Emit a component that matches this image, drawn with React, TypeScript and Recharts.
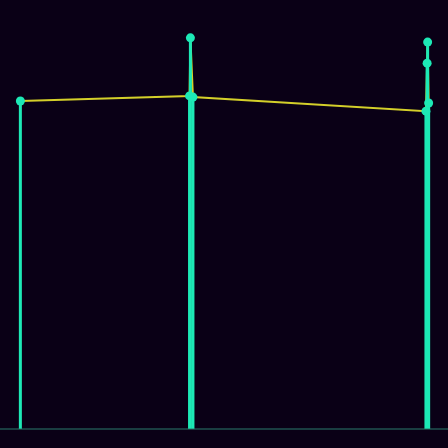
import { Area, Bar, ComposedChart, Scatter, XAxis, YAxis } from "recharts";

const BG = "#0a0016";
const TEAL = "#1de9b6";
const YELLOW = "#d4cf2a";

// day offsets of each reading
const days = [0, 9.97, 10.02, 10.17, 23.9, 23.97, 24.0, 24.06];
const values = [84.1, 85.4, 100.3, 85.1, 81.5, 93.8, 99.2, 83.6];

const data = days.map((day, i) => ({ day, value: values[i] }));

// 3px stem down to the axis
const Stem = (props: any) => {
  const { x, y, width, height } = props;
  const cx = x + width / 2;
  return <rect x={cx - 1.5} y={y} width={3} height={height} fill={TEAL} />;
};

const Dot = (props: any) => <circle cx={props.cx} cy={props.cy} r={4.5} fill={TEAL} />;

export default function App() {
  return (
    <div style={{ width: 448, height: 448, background: BG }}>
      <style>{`body{margin:0;background:${BG};}`}</style>
      <ComposedChart
        width={448}
        height={448}
        data={data}
        margin={{ top: 0, right: 0, bottom: 0, left: 0 }}
      >
        <XAxis
          dataKey="day"
          type="number"
          domain={[-1.2, 25.2]}
          tick={false}
          tickLine={false}
          height={19}
          axisLine={{ stroke: "#2b7a6c" }}
        />
        <YAxis hide domain={[0, 110]} />
        {/* the connecting line sits beneath the stems */}
        <Area
          type="linear"
          dataKey="value"
          stroke={YELLOW}
          strokeWidth={2}
          fill="none"
          dot={false}
          activeDot={false}
          isAnimationActive={false}
        />
        <Bar dataKey="value" shape={Stem} isAnimationActive={false} />
        <Scatter dataKey="value" shape={Dot} isAnimationActive={false} />
      </ComposedChart>
    </div>
  );
}
